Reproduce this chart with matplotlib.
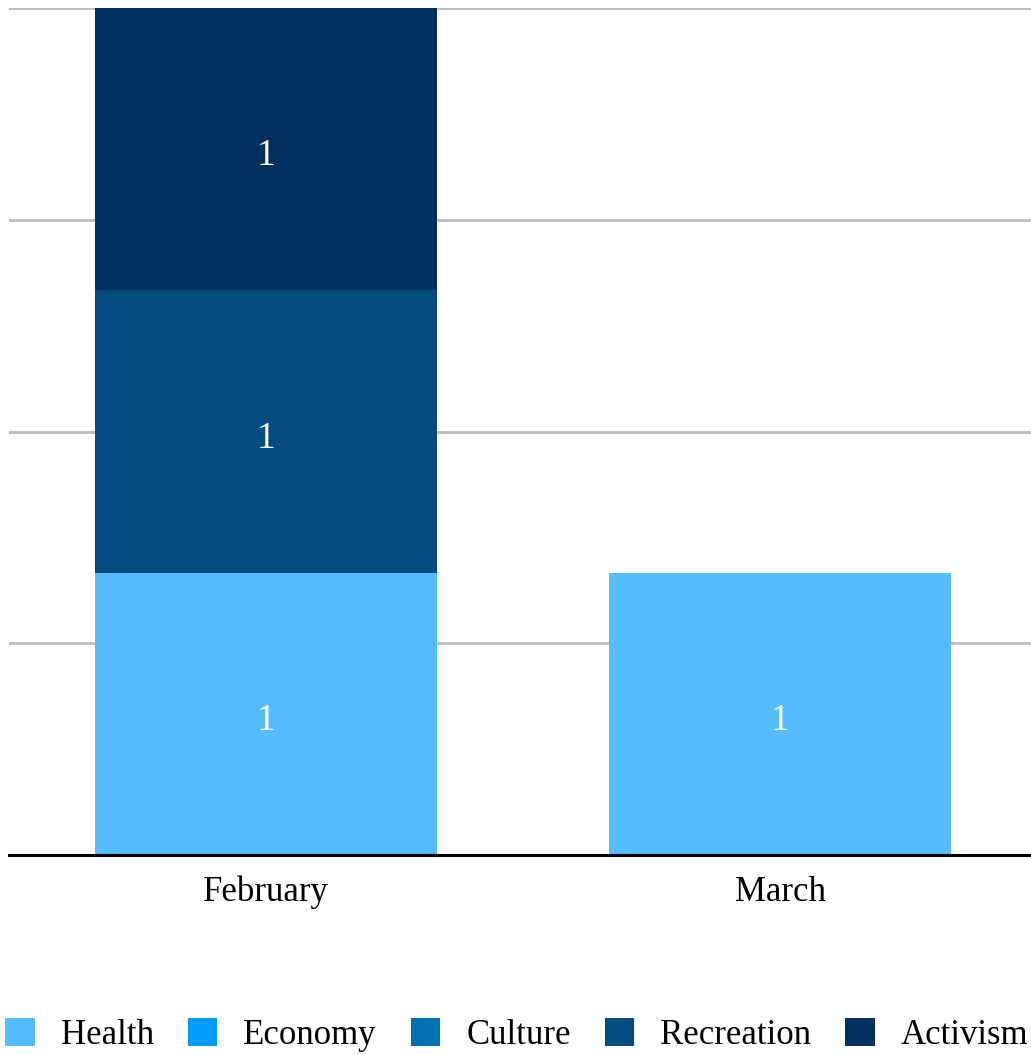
import numpy as np
import matplotlib
matplotlib.use('Agg')
import matplotlib.pyplot as plt

months = ['February', 'March']
series = ['Health', 'Economy', 'Culture', 'Recreation', 'Activism']
health = [1, 1]
economy = [0, 0]
culture = [0, 0]
recreation = [1, 0]
activism = [1, 0]
values = [health, economy, culture, recreation, activism]
colors = ['#56bcfd', '#009dff', '#0070b0', '#024b7f', '#003060']

plt.rcParams['font.family'] = ['Liberation Serif', 'DejaVu Serif']

fig = plt.figure(figsize=(10.31, 10.55), dpi=100)
ax = fig.add_axes([9 / 1031, 200 / 1055, 1028 / 1031, 847 / 1055])

x = np.arange(len(months))
bottom = np.zeros(len(months))
for name, vals, col in zip(series, values, colors):
    vals = np.array(vals, dtype=float)
    bars = ax.bar(x, vals, width=0.667, bottom=bottom, color=col, label=name, zorder=3)
    labels = [f'{v:g}' if v > 0 else '' for v in vals]
    anns = ax.bar_label(bars, labels=labels, label_type='center', color='white', fontsize=27)
    for a in anns:
        a.xyann = (0, -5)
    bottom += vals

ax.set_xlim(-0.5, 1.5)
ax.set_ylim(0, 3)
ax.set_yticks([0, 0.75, 1.5, 2.25, 3])
ax.yaxis.grid(True, color='#bdbdbd', linewidth=2, zorder=0)
ax.tick_params(axis='y', left=False, labelleft=False)
ax.tick_params(axis='x', length=0, labelsize=25, pad=15)
ax.set_xticks(x)
ax.set_xticklabels(months)
for s in ['top', 'right', 'left']:
    ax.spines[s].set_visible(False)
ax.spines['bottom'].set_linewidth(2.2)
ax.spines['bottom'].set_zorder(4)

fig.legend(loc='lower left', bbox_to_anchor=(5 / 1031, 3 / 1055), ncol=5, frameon=False,
           fontsize=25, handlelength=0.85, handleheight=0.85, handletextpad=0.75,
           columnspacing=0.98, borderpad=0, borderaxespad=0)

fig.savefig('out.png', dpi=100)
